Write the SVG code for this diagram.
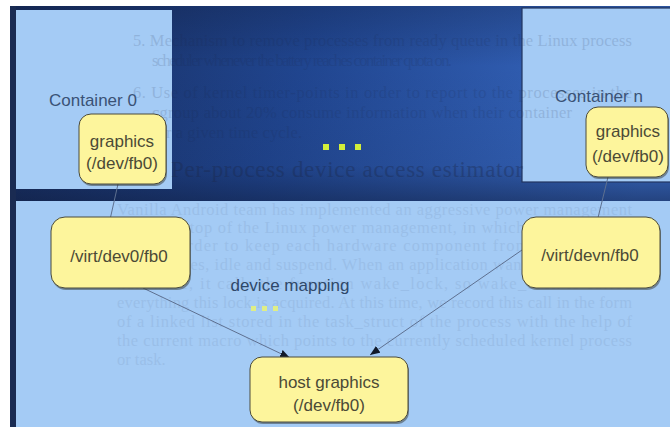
<svg xmlns="http://www.w3.org/2000/svg" width="670" height="427" viewBox="0 0 670 427">
  <defs>
    <linearGradient id="slideBg" x1="0" y1="0" x2="1" y2="0.25">
      <stop offset="0" stop-color="#172b5a"/>
      <stop offset="0.45" stop-color="#20458f"/>
      <stop offset="1" stop-color="#3a6cc6"/>
    </linearGradient>
    <linearGradient id="slideShade" x1="0" y1="0" x2="0" y2="1">
      <stop offset="0" stop-color="#0e1a38" stop-opacity="0.25"/>
      <stop offset="0.3" stop-color="#0e1a38" stop-opacity="0"/>
      <stop offset="0.8" stop-color="#0e1a38" stop-opacity="0.1"/>
      <stop offset="1" stop-color="#0e1a38" stop-opacity="0.55"/>
    </linearGradient>
    <marker id="arrow" markerUnits="userSpaceOnUse" markerWidth="12" markerHeight="10" refX="10" refY="4" orient="auto">
      <path d="M0,0 L10,4 L0,8 z" fill="#111a2a"/>
    </marker>
    <style>
      .pane { fill: #a4cbf5; }
      .label { font-family: "Liberation Sans", Arial, sans-serif; font-size: 17px; fill: #3a5276; }
      .node rect.box { fill: #fdf59c; stroke: #4a4a3c; stroke-width: 1; }
      .node rect.shadow { fill: #2a2a22; opacity: 0.45; }
      .node text { font-family: "Liberation Sans", Arial, sans-serif; font-size: 17px; fill: #4b4a36; text-anchor: middle; }
      .link { fill: none; stroke: #5e7090; stroke-width: 1; marker-end: url(#arrow); }
      .dot { fill: #d2ee3a; }
      .dot.faint { fill: #dfee86; }
      .ghost { font-family: "Liberation Serif", "Times New Roman", serif; font-size: 16.5px; fill: #1b2646; }
    </style>
  </defs>

  <!-- page and slide backdrop -->
  <rect x="0" y="0" width="670" height="427" fill="#ffffff"/>
  <rect x="10" y="6" width="660" height="421" fill="url(#slideBg)"/>
  <rect x="10" y="6" width="660" height="200" fill="url(#slideShade)"/>
  <rect x="10" y="6" width="6" height="421" fill="#1a2b52"/>

  <!-- panes -->
  <g id="container-0">
    <rect class="pane" x="16" y="10" width="156" height="179"/>
  </g>
  <g id="container-n">
    <rect class="pane" x="522" y="8" width="150" height="174" stroke="#22355f" stroke-width="1.2"/>
  </g>
  <g id="host">
    <rect class="pane" x="16" y="201" width="654" height="226"/>
  </g>

  <!-- faint printed page showing through the projection -->
  <g id="page-text" class="ghost">
    <g opacity="0.14">
      <text x="133" y="46" textLength="499" lengthAdjust="spacing">5. Mechanism to remove processes from ready queue in the Linux process</text>
      <text x="152" y="66" textLength="300" lengthAdjust="spacing">scheduler whenever the battery reaches container quota on.</text>
      <text x="133" y="98" textLength="499" lengthAdjust="spacing">6. Use of kernel timer-points in order to report to the processes in the</text>
      <text x="152" y="118" textLength="420" lengthAdjust="spacing">cgroup about 20% consume information when their container</text>
      <text x="152" y="138" textLength="150" lengthAdjust="spacing">for a given time cycle.</text>
    </g>
    <g opacity="0.34" style="font-size:23px">
      <text x="120" y="177">4.2</text>
      <text x="171" y="177" textLength="352" lengthAdjust="spacing">Per-process device access estimator</text>
    </g>
    <g opacity="0.07">
      <text x="117" y="215" textLength="515" lengthAdjust="spacing">Vanilla Android team has implemented an aggressive power management</text>
      <text x="117" y="233" textLength="515" lengthAdjust="spacing">policy on top of the Linux power management, in which wakelocks are</text>
      <text x="117" y="251" textLength="515" lengthAdjust="spacing">used in order to keep each hardware component from going to low</text>
      <text x="117" y="270" textLength="515" lengthAdjust="spacing">power states, idle and suspend. When an application wants to access any</text>
      <text x="117" y="289" textLength="515" lengthAdjust="spacing">hardware, it calls the function wake_lock, so wake_lock is called</text>
      <text x="117" y="308" textLength="515" lengthAdjust="spacing">everything this lock is acquired. At this time, we record this call in the form</text>
      <text x="117" y="327" textLength="515" lengthAdjust="spacing">of a linked list stored in the task_struct of the process with the help of</text>
      <text x="117" y="346" textLength="515" lengthAdjust="spacing">the current macro which points to the currently scheduled kernel process</text>
      <text x="117" y="365">or task.</text>
      <text x="333" y="410">12</text>
    </g>
  </g>

  <!-- pane labels -->
  <text class="label" x="49" y="106">Container 0</text>
  <text class="label" x="555" y="102">Container n</text>
  <text class="label" x="290" y="291" text-anchor="middle" style="fill:#2f4869">device mapping</text>

  <!-- ellipsis dots -->
  <g id="dots-containers">
    <rect class="dot" x="323" y="144" width="6" height="6"/>
    <rect class="dot" x="339" y="144" width="6" height="6"/>
    <rect class="dot" x="355" y="144" width="6" height="6"/>
  </g>
  <g id="dots-mapping">
    <rect class="dot faint" x="251" y="306" width="5" height="5"/>
    <rect class="dot faint" x="262" y="306" width="5" height="5"/>
    <rect class="dot faint" x="273" y="306" width="5" height="5"/>
  </g>

  <!-- connectors -->
  <g id="connectors">
    <line class="link" x1="118" y1="184" x2="107" y2="233"/>
    <line class="link" x1="608" y1="177" x2="594" y2="234"/>
    <line class="link" x1="143" y1="288" x2="290" y2="358"/>
    <line class="link" x1="522" y1="250" x2="370" y2="355"/>
  </g>

  <!-- nodes -->
  <g id="graphics-0" class="node">
    <rect class="shadow" x="80" y="116" width="87" height="70" rx="12"/>
    <rect class="box" x="79" y="114" width="87" height="70" rx="12"/>
    <text x="122" y="147">graphics</text>
    <text x="122" y="169">(/dev/fb0)</text>
  </g>
  <g id="graphics-n" class="node">
    <rect class="shadow" x="587" y="109" width="82" height="70" rx="12"/>
    <rect class="box" x="586" y="107" width="82" height="70" rx="12"/>
    <text x="628" y="137">graphics</text>
    <text x="628" y="162">(/dev/fb0)</text>
  </g>
  <g id="virt-dev0-fb0" class="node">
    <rect class="shadow" x="52" y="219" width="139" height="71" rx="14"/>
    <rect class="box" x="51" y="217" width="139" height="71" rx="14"/>
    <text x="119" y="262">/virt/dev0/fb0</text>
  </g>
  <g id="virt-devn-fb0" class="node">
    <rect class="shadow" x="523" y="219" width="138" height="71" rx="14"/>
    <rect class="box" x="522" y="217" width="138" height="71" rx="14"/>
    <text x="590" y="261">/virt/devn/fb0</text>
  </g>
  <g id="host-graphics" class="node">
    <rect class="shadow" x="251" y="359" width="158" height="65" rx="12"/>
    <rect class="box" x="250" y="357" width="158" height="65" rx="12"/>
    <text x="329" y="388">host graphics</text>
    <text x="329" y="411">(/dev/fb0)</text>
  </g>
</svg>
